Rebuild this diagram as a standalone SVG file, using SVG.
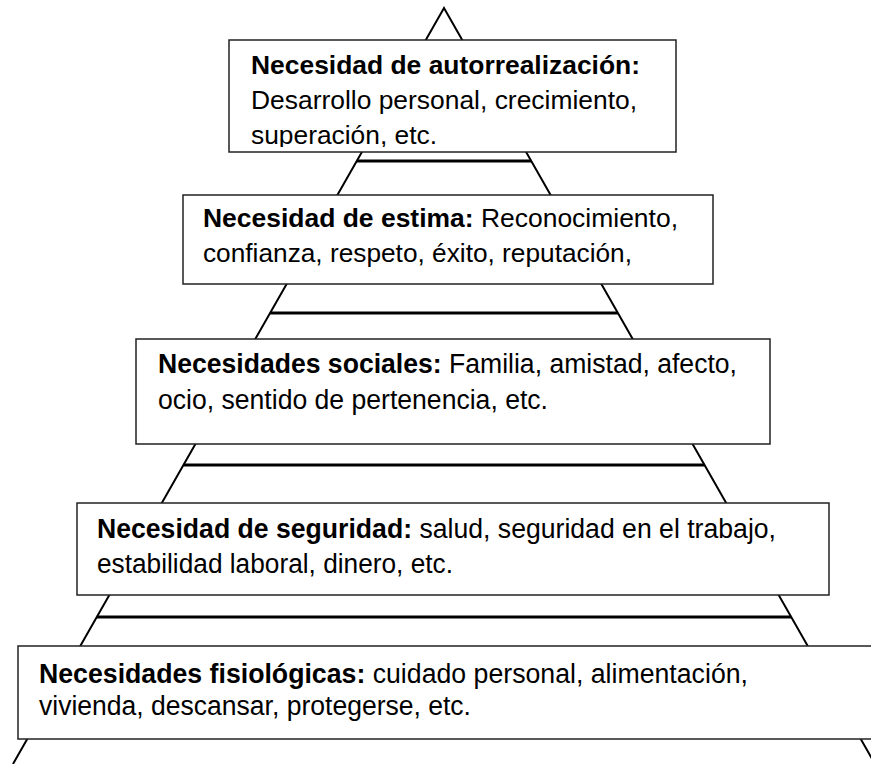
<svg xmlns="http://www.w3.org/2000/svg" width="871" height="764" viewBox="0 0 871 764">
<style>
.edge{stroke:#000;stroke-width:2;fill:none}
.tier{stroke:#000;stroke-width:3}
.box{fill:#fff;stroke:#222;stroke-width:1.5}
.t{font-family:"Liberation Sans",Arial,sans-serif;font-size:26px;fill:#000}
.n{font-size:27px}
.b{font-weight:bold}
</style>
<defs>
<clipPath id="c1"><rect x="229" y="40" width="447" height="107"/></clipPath>
</defs>
<rect width="871" height="764" fill="#fff"/>
<g id="connectors">
<polyline class="edge" points="13,764 444,8 875,764"/>
<line class="tier" x1="356.8" y1="161" x2="531.2" y2="161"/>
<line class="tier" x1="270.1" y1="313" x2="617.9" y2="313"/>
<line class="tier" x1="183.5" y1="465" x2="704.5" y2="465"/>
<line class="tier" x1="96.8" y1="617" x2="791.2" y2="617"/>
</g>
<g id="n1">
<rect class="box" x="229" y="40" width="447" height="112"/>
<g clip-path="url(#c1)">
<text class="t b" x="251" y="74" textLength="389" lengthAdjust="spacingAndGlyphs">Necesidad de autorrealización:</text>
<text class="t" x="251" y="109" textLength="386" lengthAdjust="spacingAndGlyphs">Desarrollo personal, crecimiento,</text>
<text class="t" x="251" y="144" textLength="186" lengthAdjust="spacingAndGlyphs">superación, etc.</text>
</g>
</g>
<g id="n2">
<rect class="box" x="183" y="195" width="530" height="89"/>
<text class="t" x="203" y="227" textLength="475" lengthAdjust="spacingAndGlyphs"><tspan class="b">Necesidad de estima:</tspan> Reconocimiento,</text>
<text class="t" x="203" y="262" textLength="429" lengthAdjust="spacingAndGlyphs">confianza, respeto, éxito, reputación,</text>
</g>
<g id="n3">
<rect class="box" x="136" y="339" width="634" height="105"/>
<text class="t n" x="158" y="373" textLength="579" lengthAdjust="spacingAndGlyphs"><tspan class="b">Necesidades sociales:</tspan> Familia, amistad, afecto,</text>
<text class="t n" x="158" y="409" textLength="390" lengthAdjust="spacingAndGlyphs">ocio, sentido de pertenencia, etc.</text>
</g>
<g id="n4">
<rect class="box" x="77" y="503" width="752" height="92"/>
<text class="t n" x="97" y="538" textLength="679" lengthAdjust="spacingAndGlyphs"><tspan class="b">Necesidad de seguridad:</tspan> salud, seguridad en el trabajo,</text>
<text class="t n" x="97" y="573" textLength="356" lengthAdjust="spacingAndGlyphs">estabilidad laboral, dinero, etc.</text>
</g>
<g id="n5">
<rect class="box" x="18" y="646" width="880" height="93"/>
<text class="t n" x="39" y="683" textLength="709" lengthAdjust="spacingAndGlyphs"><tspan class="b">Necesidades fisiológicas:</tspan> cuidado personal, alimentación,</text>
<text class="t n" x="39" y="715" textLength="432" lengthAdjust="spacingAndGlyphs">vivienda, descansar, protegerse, etc.</text>
</g>
</svg>
